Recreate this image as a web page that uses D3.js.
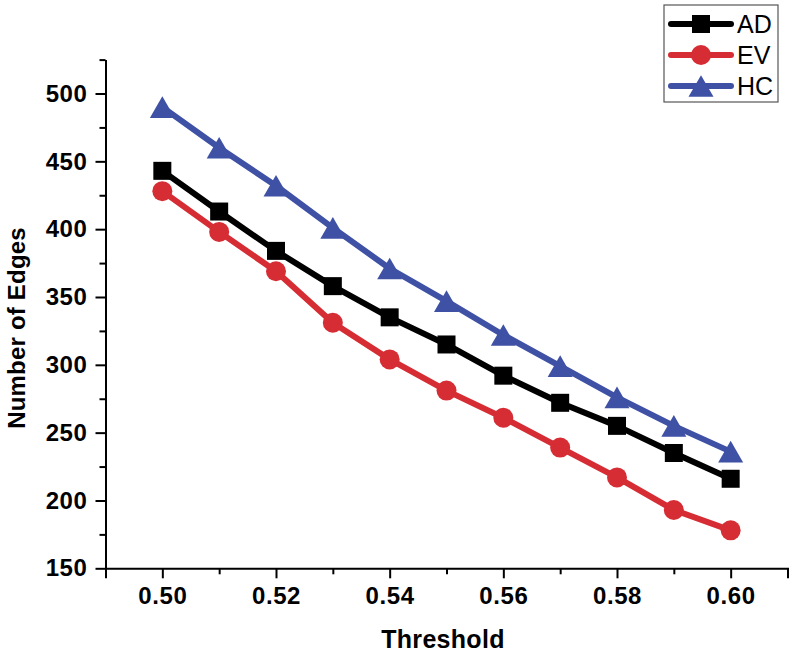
<!DOCTYPE html>
<html>
<head>
<meta charset="utf-8">
<script src="https://cdn.jsdelivr.net/npm/d3@7"></script>
<style>
  html, body { margin: 0; padding: 0; background: #fff; }
  svg { display: block; }
  text { font-family: "Liberation Sans", Arial, Helvetica, sans-serif; }
</style>
</head>
<body>
<svg id="chart" width="796" height="657"></svg>
<script>
// ---- data ----
const thresholds = [0.50, 0.51, 0.52, 0.53, 0.54, 0.55, 0.56, 0.57, 0.58, 0.59, 0.60];
const adValues = [443, 413, 384, 358, 335, 315, 292, 272, 255, 235, 216];
const evValues = [428, 398, 369, 331, 304, 281, 261, 239, 217, 193, 178];
const hcValues = [490, 460, 432, 401, 371, 347, 322, 299, 276, 255, 236];
const seriesNames = ["AD", "EV", "HC"];
const xTickLabels = ["0.50", "0.52", "0.54", "0.56", "0.58", "0.60"];
const yTickLabels = ["150", "200", "250", "300", "350", "400", "450", "500"];

const colors = { AD: "#000000", EV: "#d62d35", HC: "#3f51a5" };
const shapes = { AD: "square", EV: "circle", HC: "triangle" };
const seriesData = { AD: adValues, EV: evValues, HC: hcValues };

const svg = d3.select("#chart");
const x = d3.scaleLinear().domain([0.49, 0.61]).range([105.5, 787.5]);
const y = d3.scaleLinear().domain([150, 525]).range([568.3, 59.6]);

// ---- axes ----
const xMajor = xTickLabels.map(Number);
const xMinor = d3.range(0, 13).map(i => +(0.49 + i * 0.01).toFixed(2)).filter(v => !xMajor.some(m => Math.abs(m - v) < 1e-9));
const yMajor = yTickLabels.map(Number);
const yMinor = d3.range(175, 526, 50);

const axisX = svg.append("g").attr("transform", "translate(0,568.3)");
axisX.call(d3.axisBottom(x).tickValues(xMajor).tickFormat(d3.format(".2f")).tickSize(10).tickPadding(9));
const axisXMinor = svg.append("g").attr("transform", "translate(0,568.3)");
axisXMinor.call(d3.axisBottom(x).tickValues(xMinor).tickFormat("").tickSize(6));
axisXMinor.select(".domain").remove();

const axisY = svg.append("g").attr("transform", "translate(105.5,0)");
axisY.call(d3.axisLeft(y).tickValues(yMajor).tickFormat(d3.format("d")).tickSize(10).tickPadding(8).tickSizeOuter(0));
const axisYMinor = svg.append("g").attr("transform", "translate(105.5,0)");
axisYMinor.call(d3.axisLeft(y).tickValues(yMinor).tickFormat("").tickSize(6));
axisYMinor.select(".domain").remove();

svg.selectAll(".domain").attr("stroke", "#000").attr("stroke-width", 2);
svg.selectAll(".tick line").attr("stroke", "#000").attr("stroke-width", 2);
svg.selectAll(".tick text")
  .attr("fill", "#000")
  .style("font-family", '"Liberation Sans", Arial, sans-serif')
  .style("font-size", "24px")
  .style("font-weight", "bold")
  .style("letter-spacing", "0.6px");

// axis titles
svg.append("text")
  .attr("x", 443).attr("y", 648)
  .attr("text-anchor", "middle")
  .style("font-size", "25px").style("font-weight", "bold")
  .style("letter-spacing", "0.3px")
  .text("Threshold");

svg.append("text")
  .attr("transform", "translate(25,328) rotate(-90)")
  .attr("text-anchor", "middle")
  .style("font-size", "24px").style("font-weight", "bold")
  .style("letter-spacing", "0.2px")
  .text("Number of Edges");

// ---- markers ----
function drawMarker(g, shape, cx, cy, color) {
  if (shape === "square") {
    g.append("rect").attr("x", cx - 9).attr("y", cy - 9).attr("width", 18).attr("height", 18).attr("fill", color);
  } else if (shape === "circle") {
    g.append("circle").attr("cx", cx).attr("cy", cy).attr("r", 10).attr("fill", color);
  } else {
    const s = 25, h = s * Math.sqrt(3) / 2;
    g.append("path")
      .attr("d", `M${cx},${cy - h / 2}L${cx + s / 2},${cy + h / 2}L${cx - s / 2},${cy + h / 2}Z`)
      .attr("fill", color);
  }
}

const line = d3.line().x(d => x(d[0])).y(d => y(d[1]));

seriesNames.forEach(name => {
  const pts = thresholds.map((t, i) => [t, seriesData[name][i]]);
  const g = svg.append("g");
  g.append("path")
    .attr("d", line(pts))
    .attr("fill", "none")
    .attr("stroke", colors[name])
    .attr("stroke-width", 6)
    .attr("stroke-linejoin", "round");
  pts.forEach(p => drawMarker(g, shapes[name], x(p[0]), y(p[1]), colors[name]));
});

// ---- legend ----
const legend = svg.append("g");
legend.append("rect")
  .attr("x", 664).attr("y", 5).attr("width", 114).attr("height", 97)
  .attr("fill", "#fff").attr("stroke", "#555").attr("stroke-width", 1.2);
const legendY = [24, 55, 86];
seriesNames.forEach((name, i) => {
  const ly = legendY[i];
  legend.append("line")
    .attr("x1", 671).attr("x2", 731).attr("y1", ly).attr("y2", ly)
    .attr("stroke", colors[name]).attr("stroke-width", 6).attr("stroke-linecap", "round");
  drawMarker(legend, shapes[name], 701, ly, colors[name]);
  legend.append("text")
    .attr("x", 737).attr("y", ly + 9)
    .style("font-size", "25px")
    .text(name);
});
</script>
</body>
</html>
